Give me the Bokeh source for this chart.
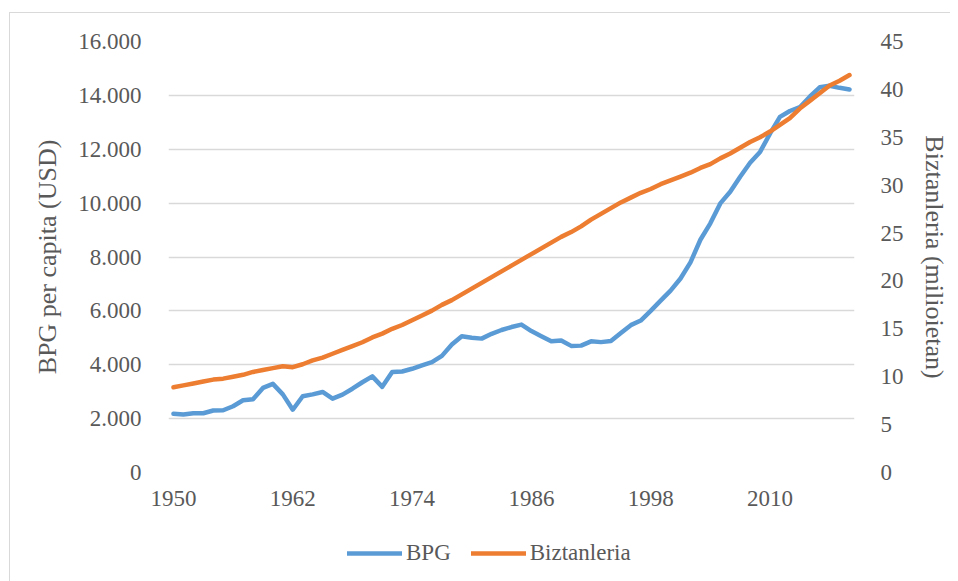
from bokeh.plotting import figure
from bokeh.models import (Range1d, LinearAxis, FixedTicker, Legend, LegendItem,
                          ColumnDataSource)
from bokeh.layouts import column
from bokeh.embed import file_html
from bokeh.resources import INLINE

years = list(range(1950, 2019))

bpg = [2180, 2150, 2200, 2200, 2300, 2310, 2460, 2680, 2720, 3140,
       3290, 2900, 2330, 2830, 2900, 2990, 2740, 2890, 3110, 3350,
       3570, 3180, 3730, 3750, 3850, 3980, 4100, 4330, 4750, 5060,
       5000, 4970, 5150, 5290, 5400, 5490, 5250, 5060, 4870, 4900,
       4700, 4710, 4870, 4840, 4880, 5180, 5470, 5640, 6000, 6380,
       6750, 7200, 7800, 8640, 9250, 9990, 10420, 10980, 11500, 11900,
       12580, 13200, 13420, 13560, 13950, 14300, 14360, 14280, 14220]

biztanleria = [8.9, 9.1, 9.3, 9.5, 9.7, 9.8, 10.0, 10.2, 10.5, 10.7,
               10.9, 11.1, 11.0, 11.3, 11.7, 12.0, 12.4, 12.8, 13.2, 13.6,
               14.1, 14.5, 15.0, 15.4, 15.9, 16.4, 16.9, 17.5, 18.0, 18.6,
               19.2, 19.8, 20.4, 21.0, 21.6, 22.2, 22.8, 23.4, 24.0, 24.6,
               25.1, 25.7, 26.4, 27.0, 27.6, 28.2, 28.7, 29.2, 29.6, 30.1,
               30.5, 30.9, 31.3, 31.8, 32.2, 32.8, 33.3, 33.9, 34.5, 35.0,
               35.6, 36.3, 37.0, 38.0, 38.8, 39.6, 40.4, 40.9, 41.5]

x_ticks = [1950, 1962, 1974, 1986, 1998, 2010]
left_ticks = [0, 2000, 4000, 6000, 8000, 10000, 12000, 14000, 16000]
left_tick_labels = ["0", "2.000", "4.000", "6.000", "8.000", "10.000",
                    "12.000", "14.000", "16.000"]
right_ticks = [0, 5, 10, 15, 20, 25, 30, 35, 40, 45]
series_names = ["BPG", "Biztanleria"]

BLUE = "#5B9BD5"
ORANGE = "#ED7D31"
TXT = "#595959"
GRID = "#D9D9D9"
FONT = "Liberation Serif"

src = ColumnDataSource(dict(year=years, bpg=bpg, pop=biztanleria))

p = figure(frame_width=685, frame_height=430, output_backend="svg",
           toolbar_location=None,
           x_range=Range1d(1949.5, 2018.5), y_range=Range1d(0, 16000),
           min_border_left=158, min_border_right=96, min_border_top=28,
           min_border_bottom=50)
p.outline_line_color = None
p.background_fill_color = "white"
p.border_fill_color = "white"
p.styles = {"margin-left": "9px", "margin-top": "12px",
            "border-top": "1px solid #D9D9D9", "border-left": "1px solid #D9D9D9"}

p.extra_y_ranges = {"pop": Range1d(0, 45)}

r1 = p.line("year", "bpg", source=src, line_color=BLUE, line_width=4.5,
            line_cap="round", line_join="round")
r2 = p.line("year", "pop", source=src, y_range_name="pop", line_color=ORANGE,
            line_width=4.5, line_cap="round", line_join="round")

xa = p.xaxis[0]
xa.ticker = FixedTicker(ticks=x_ticks)
ya = p.yaxis[0]
ya.ticker = FixedTicker(ticks=left_ticks)
ya.major_label_overrides = {t: l for t, l in zip(left_ticks, left_tick_labels)}
ya.axis_label = "BPG per capita (USD)"

ra = LinearAxis(y_range_name="pop", ticker=FixedTicker(ticks=right_ticks),
                axis_label="Biztanleria (milioietan)")
p.add_layout(ra, "right")

for ax in [xa, ya, ra]:
    ax.axis_line_color = None
    ax.major_tick_line_color = None
    ax.minor_tick_line_color = None
    ax.major_label_text_font = FONT
    ax.major_label_text_font_size = "23px"
    ax.major_label_text_color = TXT
    ax.axis_label_text_font = FONT
    ax.axis_label_text_font_size = "26px"
    ax.axis_label_text_font_style = "normal"
    ax.axis_label_text_color = TXT
xa.major_label_standoff = 12
ya.major_label_standoff = 21
ra.major_label_standoff = 20
ya.axis_label_standoff = 13
ra.axis_label_standoff = 13

p.xgrid.grid_line_color = None
p.ygrid.grid_line_color = GRID
p.ygrid.grid_line_width = 1.3

# legend strip below the chart (its lines use the same data, outside its view)
leg = figure(width=939, height=60, output_backend="svg", toolbar_location=None,
             x_range=Range1d(0, 1), y_range=Range1d(0, 1),
             min_border=0, min_border_left=0, min_border_right=0,
             min_border_top=0, min_border_bottom=0)
leg.axis.visible = False
leg.grid.visible = False
leg.outline_line_color = None
leg.styles = {"margin-left": "9px", "border-left": "1px solid #D9D9D9"}
lr1 = leg.line("year", "bpg", source=src, line_color=BLUE, line_width=4.5,
               line_cap="round")
lr2 = leg.line("year", "pop", source=src, line_color=ORANGE, line_width=4.5,
               line_cap="round")

legend = Legend(items=[LegendItem(label=series_names[0], renderers=[lr1]),
                       LegendItem(label=series_names[1], renderers=[lr2])],
                orientation="horizontal", location=(179, 15),
                border_line_color=None, background_fill_alpha=0,
                label_text_font=FONT, label_text_font_size="23px",
                label_text_color=TXT, glyph_width=55, glyph_height=20,
                label_standoff=4, spacing=20, padding=4, margin=0)
leg.add_layout(legend)

layout = column(p, leg, spacing=0)
open("out.html", "w").write(file_html(layout, INLINE))
